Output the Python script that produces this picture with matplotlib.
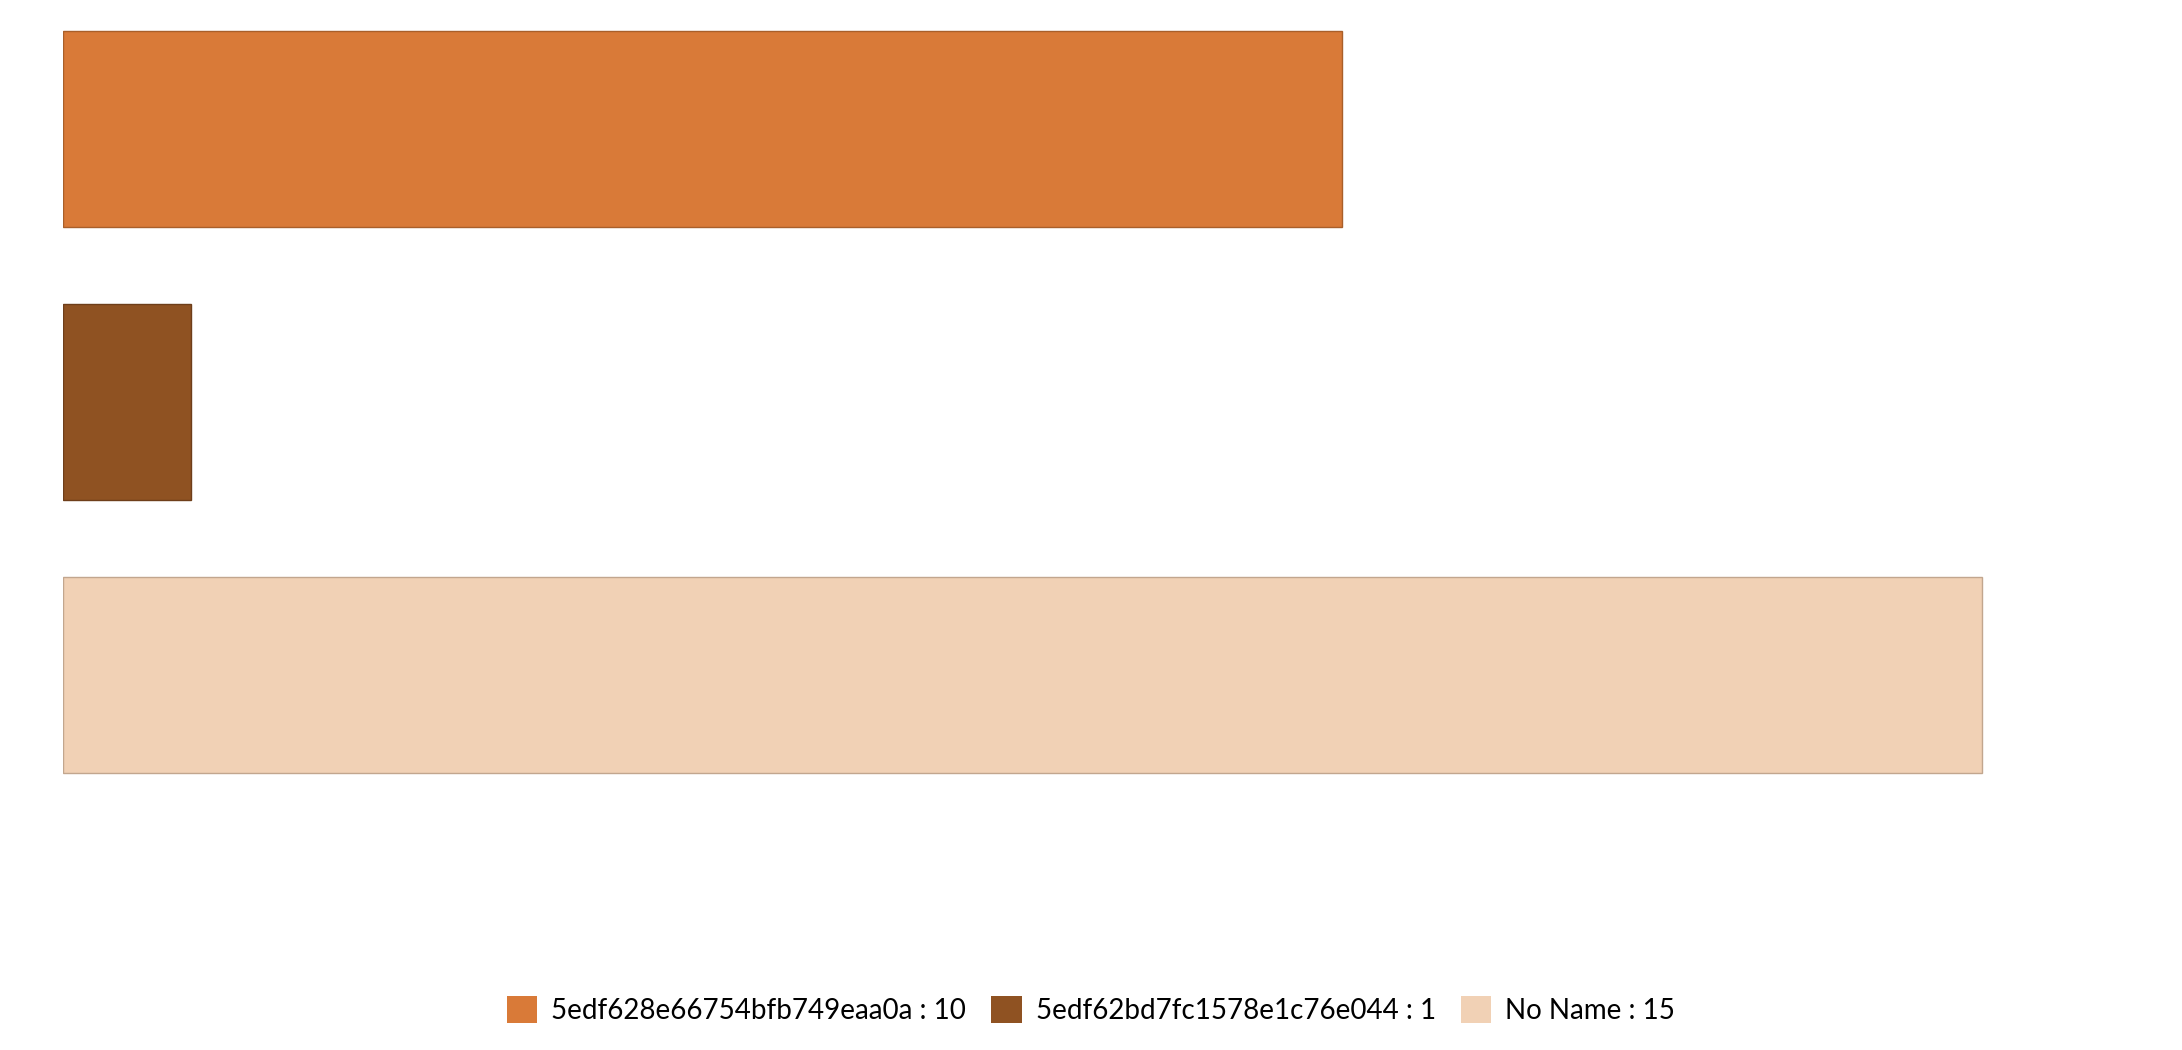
import matplotlib
matplotlib.use("Agg")
import matplotlib.pyplot as plt
from matplotlib.patches import Patch

# data
names = ["5edf628e66754bfb749eaa0a", "5edf62bd7fc1578e1c76e044", "No Name"]
counts = [10, 1, 15]
fill_colors = ["#D97A38", "#8F5222", "#F1D1B5"]
edge_colors = ["#A95F2A", "#6E3E1A", "#C2A68E"]

plt.rcParams['font.family'] = ['Lato', 'DejaVu Sans']

W, H = 2182, 1050
fig = plt.figure(figsize=(W / 100, H / 100), dpi=100)

# axes box in pixels: left 63, right 2110, top 20, bottom 800
left, right, top, bottom = 63, 2110, 20, 800
ax = fig.add_axes([left / W, 1 - bottom / H, (right - left) / W, (bottom - top) / H])

ypos = list(range(len(counts)))
ax.barh(ypos, counts, height=0.72, color=fill_colors, edgecolor=edge_colors, linewidth=1.0)

ax.set_xlim(0, 16)
ax.set_ylim(2.458, -0.399)
ax.axis("off")

handles = [Patch(facecolor=c, edgecolor="none") for c in fill_colors]
labels = [f"{n} : {v}" for n, v in zip(names, counts)]
fig.legend(handles, labels, loc="center", bbox_to_anchor=(0.5, 1 - 1010 / H),
           ncol=3, frameon=False, fontsize=20, handlelength=1.1, handleheight=1.1,
           handletextpad=0.5, columnspacing=0.9)

fig.savefig("out.png", dpi=100, facecolor="white")
